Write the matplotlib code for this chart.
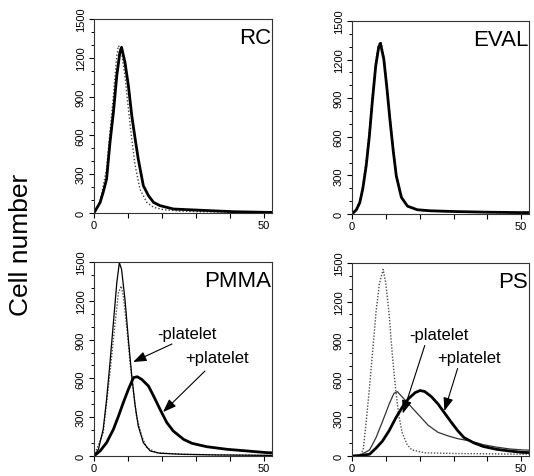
import numpy as np
import matplotlib
matplotlib.use("Agg")
import matplotlib.pyplot as plt
from matplotlib.ticker import MultipleLocator, FixedFormatter, FixedLocator

plt.rcParams['font.family'] = ['Liberation Sans', 'DejaVu Sans']

# ---- data ----
# RC
rc_thick_x = [0, 1.8, 2.7, 3.7, 4.7, 5.7, 6.7, 7.6, 8.1, 9.1, 10.1, 11.1, 12.1, 13.0,
              14.5, 16.0, 17.5, 19.4, 23.3, 27.3, 34.1, 41.0, 51.0, 53]
rc_thick_y = [0, 82, 160, 263, 546, 778, 1062, 1242, 1281, 1165, 985, 752, 572, 417,
              211, 134, 82, 57, 31, 26, 18, 10, 5, 5]
rc_dot_x = [0, 1.8, 3.7, 4.7, 5.7, 6.7, 7.2, 8.1, 9.1, 10.1, 11.1, 12.1, 13.5, 15.5,
            17.5, 20.4, 25.3, 31.2, 51.0, 53]
rc_dot_y = [0, 90, 340, 624, 907, 1216, 1294, 1242, 1062, 804, 572, 366, 185, 82,
            44, 26, 15, 10, 5, 5]

# EVAL
ev_thick_x = [0, 1.3, 2.3, 3.2, 4.2, 5.1, 6.0, 7.0, 7.9, 8.4, 9.4, 10.3, 11.2, 12.2,
              13.1, 14.6, 16.4, 19.3, 23.1, 30.6, 40.1, 49.5, 53]
ev_thick_y = [0, 33, 88, 198, 377, 597, 872, 1148, 1299, 1326, 1203, 982, 735, 487,
              294, 129, 61, 33, 25, 19, 14, 11, 11]
ev_dot_x = [0, 1.3, 2.3, 3.2, 4.2, 5.1, 6.0, 7.0, 7.9, 8.5, 9.4, 10.3, 11.2, 12.2,
            13.1, 14.6, 16.4, 19.3, 23.1, 30.6, 40.1, 49.5, 53]
ev_dot_y = [0, 40, 100, 220, 410, 640, 910, 1180, 1320, 1340, 1230, 1010, 770, 520,
            310, 135, 60, 30, 22, 16, 12, 9, 9]

# PMMA
pm_minus_x = [0, 1.3, 2.7, 3.7, 4.7, 5.7, 6.7, 7.45, 8.1, 9.1, 10.1, 11.1, 12.1, 13.0,
              14.5, 16.5, 19.4, 26.3, 36.0, 50.8, 53]
pm_minus_y = [0, 52, 206, 438, 722, 1031, 1340, 1495, 1443, 1211, 902, 618, 387, 232,
              103, 39, 21, 13, 8, 5, 5]
pm_dot_x = [0, 2.7, 4.7, 6.2, 7.2, 8.0, 8.6, 9.6, 10.6, 11.6, 12.5, 14.0, 15.5, 18.4,
            26.0, 50.8, 53]
pm_dot_y = [0, 180, 644, 1031, 1263, 1314, 1237, 1005, 722, 490, 309, 155, 64, 26,
            13, 5, 5]
pm_plus_x = [0, 1.8, 3.7, 5.7, 7.2, 8.6, 10.1, 11.6, 12.7, 14.0, 16.0, 17.5, 19.4, 21.4,
             23.3, 26.3, 28.8, 33.1, 39.0, 44.9, 50.8, 53]
pm_plus_y = [0, 39, 103, 206, 309, 412, 515, 606, 613, 593, 541, 464, 361, 258,
             193, 129, 98, 72, 52, 39, 26, 24]

# PS
ps_dot_x = [0, 2.3, 3.3, 4.2, 5.2, 6.2, 7.1, 8.1, 9.2, 10.0, 11.0, 11.9, 12.9, 13.8,
            14.8, 16.3, 17.7, 21.5, 31.2, 40.8, 50.4, 53]
ps_dot_y = [0, 0, 47, 267, 542, 845, 1120, 1340, 1450, 1340, 1093, 790, 515, 322,
            184, 88, 47, 25, 19, 17, 14, 14]
ps_minus_x = [0, 2.3, 5.2, 7.1, 9.0, 11.0, 12.4, 13.4, 14.8, 16.7, 19.6, 22.5, 25.4,
              28.3, 31.2, 35.0, 38.8, 42.7, 46.5, 50.4, 53]
ps_minus_y = [0, 5, 47, 143, 267, 405, 487, 500, 460, 405, 322, 239, 184,
              157, 135, 116, 88, 69, 55, 47, 45]
ps_plus_x = [0, 3.0, 5.2, 7.1, 9.0, 11.0, 12.9, 14.8, 16.7, 18.7, 20.1, 21.5, 23.5, 25.4,
             27.3, 29.2, 31.2, 33.1, 36.0, 38.8, 42.7, 46.5, 50.4, 53]
ps_plus_y = [0, 5, 14, 61, 116, 198, 294, 377, 446, 493, 509, 501, 460, 405,
             336, 267, 198, 143, 102, 74, 52, 39, 28, 26]

panel_titles = ["RC", "EVAL", "PMMA", "PS"]
ytick_vals = [0, 300, 600, 900, 1200, 1500]

W, H = 534, 477
fig = plt.figure(figsize=(W / 100, H / 100), dpi=100)


def make_ax(x0, x1, ytop, ybot):
    return fig.add_axes([x0 / W, 1 - ybot / H, (x1 - x0) / W, (ybot - ytop) / H])


ax_rc = make_ax(94, 272, 20, 214)
ax_ev = make_ax(352, 529, 22, 215)
ax_pm = make_ax(94, 272, 263, 457)
ax_ps = make_ax(352, 529, 264, 457)
axes = [ax_rc, ax_ev, ax_pm, ax_ps]

THICK = 2.0
THIN = 0.9

ax_rc.plot(rc_dot_x, rc_dot_y, color='0.25', lw=1.0, ls=(0, (1, 1.5)))
ax_rc.plot(rc_thick_x, rc_thick_y, color='k', lw=THICK)

ax_ev.plot(ev_dot_x, ev_dot_y, color='0.25', lw=1.0, ls=(0, (1, 1.5)))
ax_ev.plot(ev_thick_x, ev_thick_y, color='k', lw=THICK)

ax_pm.plot(pm_dot_x, pm_dot_y, color='0.3', lw=1.0, ls=(0, (1, 1.2)))
ax_pm.plot(pm_minus_x, pm_minus_y, color='k', lw=THIN)
ax_pm.plot(pm_plus_x, pm_plus_y, color='k', lw=THICK)

ax_ps.plot(ps_dot_x, ps_dot_y, color='0.3', lw=1.0, ls=(0, (1, 1.2)))
ax_ps.plot(ps_minus_x, ps_minus_y, color='0.2', lw=THIN)
ax_ps.plot(ps_plus_x, ps_plus_y, color='k', lw=THICK)

for ax, title in zip(axes, panel_titles):
    ax.set_xlim(0, 52.3)
    ax.set_ylim(0, 1500)
    ax.xaxis.set_major_locator(FixedLocator([0, 10, 20, 30, 40, 50]))
    ax.xaxis.set_major_formatter(FixedFormatter(["0", "", "", "", "", "50"]))
    ax.yaxis.set_major_locator(FixedLocator(ytick_vals))
    ax.yaxis.set_minor_locator(MultipleLocator(100))
    ax.tick_params(direction='out', length=3.5, width=0.8, labelsize=8, pad=1.5)
    ax.tick_params(axis='y', which='major', pad=2.5)
    ax.tick_params(axis='y', which='minor', length=2, width=0.7)
    for lab in ax.get_yticklabels():
        lab.set_rotation(90)
        lab.set_va('center')
    for sp in ax.spines.values():
        sp.set_linewidth(0.8)
        sp.set_color('0.2')
    ax.text(0.995, 0.96, title, transform=ax.transAxes, ha='right', va='top',
            fontsize=16)

arrow = dict(arrowstyle='-|>,head_length=0.8,head_width=0.3', color='k', lw=0.8,
             shrinkA=0, shrinkB=0)

ax_pm.annotate('', xy=(11.5, 727), xytext=(22.9, 866), arrowprops=arrow)
ax_pm.text(27.4, 951, '-platelet', ha='center', va='center', fontsize=12)
ax_pm.annotate('', xy=(20.3, 340), xytext=(32.6, 657), arrowprops=arrow)
ax_pm.text(36.2, 758, '+platelet', ha='center', va='center', fontsize=12)

ax_ps.annotate('', xy=(15.0, 330), xytext=(21.5, 859), arrowprops=arrow)
ax_ps.text(25.6, 941, '-platelet', ha='center', va='center', fontsize=12)
ax_ps.annotate('', xy=(27.3, 350), xytext=(31.2, 680), arrowprops=arrow)
ax_ps.text(34.7, 762, '+platelet', ha='center', va='center', fontsize=12)

fig.text(21 / W, 1 - 245 / H, 'Cell number', rotation=90, ha='center', va='center',
         fontsize=19)

fig.savefig('out.png', dpi=100)
